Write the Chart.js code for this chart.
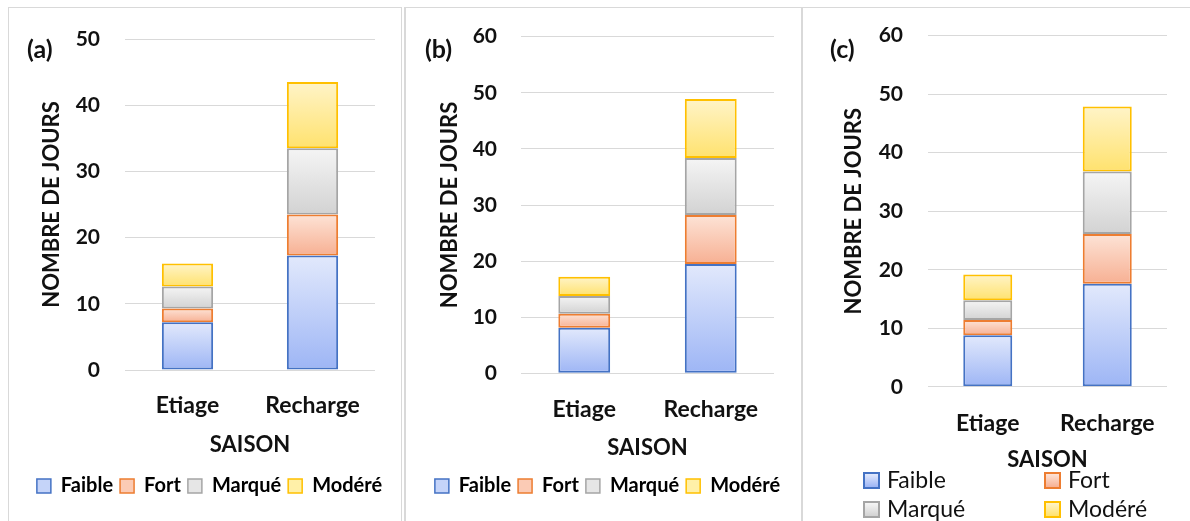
<!DOCTYPE html>
<html lang="fr">
<head>
<meta charset="UTF-8">
<title>Nombre de jours par saison</title>
<script src="https://cdn.jsdelivr.net/npm/chart.js"></script>
<style>
  body { margin: 0; width: 1190px; height: 521px; background: #fff; overflow: hidden; font-family: Lato, sans-serif; }
  .panel { position: absolute; top: 7px; height: 514px; border-top: 1px solid #d9d9d9; box-sizing: border-box; }
  #pa { left: 8px; width: 394px; border-left: 1px solid #d9d9d9; border-right: 1px solid #d9d9d9; }
  #pb { left: 404px; width: 398px; border-left: 2px solid #d9d9d9; border-right: 1px solid #d9d9d9; }
  #pc { left: 801px; width: 389px; border-left: 2px solid #d9d9d9; }
  .panel canvas { position: absolute; left: 0; top: 0; }
  .tag { position: absolute; font: bold 25px Lato; color: #111; }
  #legc { position: absolute; left: 863px; top: 466px; width: 320px; font: 23px Lato; color: #111; }
  #legc span.it { position: absolute; white-space: nowrap; line-height: 26px; }
  #legc i { display: inline-block; width: 13px; height: 13px; border: 2px solid; margin-right: 7px; vertical-align: -1px; }
</style>
</head>
<body>
<div class="panel" id="pa"><canvas id="chartA" width="392" height="513"></canvas></div>
<div class="panel" id="pb"><canvas id="chartB" width="395" height="513"></canvas></div>
<div class="panel" id="pc"><canvas id="chartC" width="387" height="513"></canvas></div>
<div class="tag" style="left:27px;top:33px">(a)</div>
<div class="tag" style="left:425px;top:33px">(b)</div>
<div class="tag" style="left:830px;top:33px">(c)</div>
<div id="legc"></div>

<script>
// donnees
const saisons = ['Etiage', 'Recharge'];
const classes = ['Faible', 'Fort', 'Marqué', 'Modéré'];

// (a)
const faibleA = [7.2, 17.3];
const fortA = [2.1, 6.2];
const marqueA = [3.3, 10.0];
const modereA = [3.5, 10.0];
// (b)
const faibleB = [8.1, 19.5];
const fortB = [2.5, 8.7];
const marqueB = [3.2, 10.2];
const modereB = [3.4, 10.5];
// (c)
const faibleC = [8.8, 17.6];
const fortC = [2.6, 8.5];
const marqueC = [3.4, 10.7];
const modereC = [4.4, 11.1];

const yMaxA = 50, yMaxB = 60, yMaxC = 60, yStep = 10;

// couleurs : haut clair, bas fonce, bordure
const clair = ['#e2e9fc', '#fde3d6', '#f5f5f5', '#fff4c8'];
const fonce = ['#9db5f5', '#f7b093', '#d2d2d2', '#ffe26e'];
const bord = ['#4472c4', '#ed7d31', '#a5a5a5', '#ffc000'];
const moyen = ['#c5d4f9', '#fbcbb5', '#e6e6e6', '#fff0a8'];

Chart.defaults.font.family = 'Lato';
Chart.defaults.color = '#111';

function degrade(series, k) {
    return function (c) {
        const chart = c.chart;
        if (!chart.chartArea || c.type !== 'data') return moyen[k];
        const i = c.dataIndex;
        let base = 0;
        for (let j = 0; j < k; j++) base += series[j][i];
        const y = chart.scales.y;
        const yHaut = y.getPixelForValue(base + series[k][i]);
        const yBas = y.getPixelForValue(base);
        const g = chart.ctx.createLinearGradient(0, yHaut, 0, yBas);
        g.addColorStop(0, clair[k]);
        g.addColorStop(1, fonce[k]);
        return g;
    };
}

function makeChart(id, series, yMax, lay) {
    const datasets = series.map((data, k) => ({
        label: classes[k],
        data: data,
        backgroundColor: degrade(series, k),
        borderColor: bord[k],
        borderWidth: 2,
        borderSkipped: false,
        categoryPercentage: 1,
        barPercentage: 0.41
    }));
    return new Chart(document.getElementById(id), {
        type: 'bar',
        data: { labels: saisons, datasets: datasets },
        options: {
            responsive: false,
            animation: false,
            layout: { padding: { left: lay.left, top: lay.top, right: 0, bottom: lay.bottom } },
            plugins: {
                tooltip: { enabled: false },
                legend: {
                    display: lay.legend,
                    position: 'bottom',
                    labels: {
                        font: { size: 20, weight: 'bold' },
                        boxWidth: 14,
                        boxHeight: 14,
                        padding: 7,
                        generateLabels: () => classes.map((name, k) => ({
                            text: name,
                            fillStyle: moyen[k],
                            strokeStyle: bord[k],
                            lineWidth: 1.5,
                            datasetIndex: k
                        }))
                    }
                }
            },
            scales: {
                x: {
                    stacked: true,
                    grid: { display: false },
                    border: { display: false },
                    ticks: { font: { size: 23, weight: 'bold' }, padding: lay.xPad },
                    title: {
                        display: true,
                        text: 'SAISON',
                        font: { size: 22, weight: 'bold' },
                        padding: { top: 0, bottom: lay.titleBottom }
                    },
                    afterFit: (s) => { s.height = lay.xHeight; }
                },
                y: {
                    stacked: true,
                    min: 0,
                    max: yMax,
                    grid: { color: '#d9d9d9', lineWidth: 1, drawTicks: true, tickLength: lay.yGap, tickColor: 'rgba(0,0,0,0)' },
                    border: { display: false },
                    ticks: { stepSize: yStep, font: { size: 21, weight: 'bold' }, padding: 0 },
                    title: {
                        display: true,
                        text: 'NOMBRE DE JOURS',
                        font: { size: 22, weight: 'bold' },
                        padding: { top: lay.yTitle, bottom: 0 }
                    },
                    afterFit: (s) => { s.width = lay.yWidth; }
                },
                // marge droite vide
                y2: {
                    position: 'right',
                    grid: { display: false },
                    border: { display: false },
                    ticks: { display: false },
                    afterFit: (s) => { s.width = lay.right; }
                }
            }
        }
    });
}

makeChart('chartA', [faibleA, fortA, marqueA, modereA], yMaxA, {
    left: 9, top: 31, right: 26, bottom: 15, legend: true,
    xPad: 14, xHeight: 99, titleBottom: 11,
    yGap: 25, yWidth: 107, yTitle: 20.8
});
makeChart('chartB', [faibleB, fortB, marqueB, modereB], yMaxB, {
    left: 8, top: 28.7, right: 27, bottom: 15, legend: true,
    xPad: 14, xHeight: 95.7, titleBottom: 7.5,
    yGap: 24, yWidth: 107, yTitle: 22.8
});
makeChart('chartC', [faibleC, fortC, marqueC, modereC], yMaxC, {
    left: 0, top: 27.7, right: 23, bottom: 48, legend: false,
    xPad: 15, xHeight: 86.2, titleBottom: 0,
    yGap: 25, yWidth: 125, yTitle: 37.8
});

// legende (c) en grille 2 x 2
const legc = document.getElementById('legc');
classes.forEach((name, k) => {
    const it = document.createElement('span');
    it.className = 'it';
    it.style.left = (k % 2 ? 181 : 0) + 'px';
    it.style.top = (k < 2 ? 0 : 29) + 'px';
    it.innerHTML = '<i style="border-color:' + bord[k] + ';background:linear-gradient(' + clair[k] + ',' + fonce[k] + ')"></i>' + name;
    legc.appendChild(it);
});
</script>
</body>
</html>
